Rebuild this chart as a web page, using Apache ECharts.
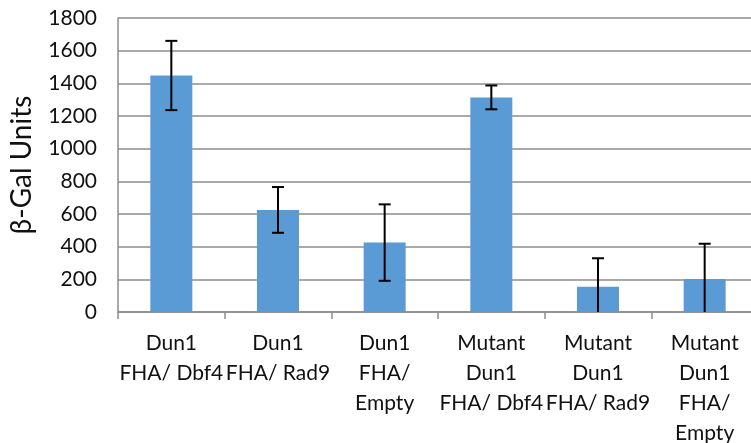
<!DOCTYPE html>
<html><head><meta charset="utf-8">
<script src="https://cdn.jsdelivr.net/npm/echarts@6/dist/echarts.min.js"></script>
<style>html,body{margin:0;padding:0;background:#fff}#c{width:751px;height:443px}</style>
</head><body><div id="c"></div>
<script>
const categories = ["Dun1\nFHA/ Dbf4", "Dun1\nFHA/ Rad9", "Dun1\nFHA/\nEmpty", "Mutant\nDun1\nFHA/ Dbf4", "Mutant\nDun1\nFHA/ Rad9", "Mutant\nDun1\nFHA/\nEmpty"];
const values = [1448, 625, 425, 1314, 155, 202];
const errors = [212, 140, 234, 73, 174, 216];
const yTicks = { min: 0, max: 1800, interval: 200 };

const errData = values.map((v, i) => [i, Math.max(0, v - errors[i]), v + errors[i], v - errors[i] >= 0 ? 1 : 0]);

const chart = echarts.init(document.getElementById('c'));
const FONT = 'Lato';
chart.setOption({
  animation: false,
  grid: { left: 118, top: 18, bottom: 131, width: 640, containLabel: false, outerBoundsMode: 'none' },
  xAxis: {
    type: 'category', data: categories,
    axisLine: { lineStyle: { color: '#8c8c8c', width: 1.5 } },
    axisTick: { show: true, length: 7, lineStyle: { color: '#8c8c8c', width: 1.5 } },
    axisLabel: { color: '#111', fontFamily: FONT, fontSize: 21, lineHeight: 30, margin: 16, interval: 0 }
  },
  yAxis: {
    type: 'value', min: yTicks.min, max: yTicks.max, interval: yTicks.interval,
    name: 'β-Gal Units', nameLocation: 'middle', nameGap: 82,
    nameTextStyle: { color: '#111', fontFamily: FONT, fontSize: 28 },
    axisLine: { show: true, lineStyle: { color: '#8c8c8c', width: 1.5 } },
    axisTick: { show: false },
    axisLabel: { color: '#111', fontFamily: FONT, fontSize: 21, margin: 21, formatter: function (v) { return String(v); } },
    splitLine: { lineStyle: { color: '#8c8c8c', width: 1.5 } }
  },
  series: [
    { type: 'bar', data: values, barWidth: 42, itemStyle: { color: '#5b9bd5' } },
    {
      type: 'custom', data: errData, z: 10,
      renderItem: function (params, api) {
        const x = api.value(0);
        const lo = api.coord([x, api.value(1)]);
        const hi = api.coord([x, api.value(2)]);
        const showLow = api.value(3);
        const hw = 6;
        const style = { stroke: '#000', lineWidth: 2 };
        const children = [
          { type: 'line', shape: { x1: hi[0], y1: hi[1], x2: lo[0], y2: lo[1] }, style },
          { type: 'line', shape: { x1: hi[0] - hw, y1: hi[1], x2: hi[0] + hw, y2: hi[1] }, style }
        ];
        if (showLow) children.push({ type: 'line', shape: { x1: lo[0] - hw, y1: lo[1], x2: lo[0] + hw, y2: lo[1] }, style });
        return { type: 'group', children };
      }
    }
  ]
});
</script></body></html>
